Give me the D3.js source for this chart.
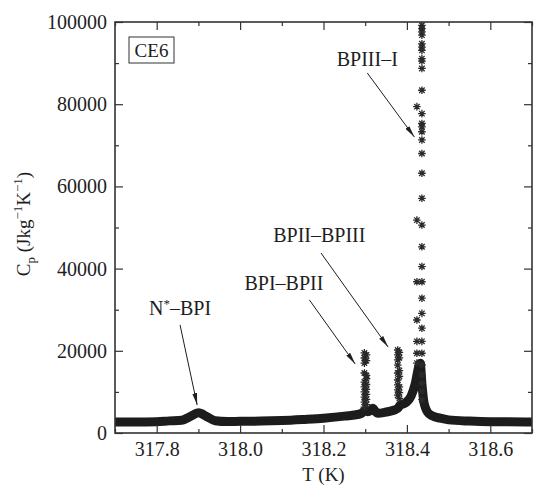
<!DOCTYPE html>
<html>
<head>
<meta charset="utf-8">
<script src="https://cdn.jsdelivr.net/npm/d3@7"></script>
<style>
  body { margin: 0; background: #fff; }
  svg text { fill: #1e1e1e; }
</style>
</head>
<body>
<div id="chart"></div>
<script>
// thick measured curve (T in K, Cp in J kg-1 K-1)
const curveT  = [317.70, 317.75, 317.80, 317.83, 317.86, 317.88, 317.90, 317.92, 317.94, 317.97,
                 318.00, 318.05, 318.10, 318.15, 318.20, 318.25, 318.29, 318.300, 318.306, 318.312,
                 318.318, 318.324, 318.33, 318.35, 318.37, 318.378, 318.384, 318.39, 318.40, 318.41,
                 318.42, 318.428, 318.432, 318.436, 318.440, 318.445, 318.45, 318.46, 318.48, 318.50,
                 318.55, 318.60, 318.70];
const curveCp = [2700, 2700, 2750, 2950, 3100, 4000, 4900, 4000, 3000, 2800,
                 2850, 2900, 3050, 3300, 3600, 4100, 4700, 5500, 5200, 5400,
                 6000, 5300, 4800, 5100, 5600, 6000, 6800, 7000, 7600, 9000,
                 12000, 16000, 17000, 12000, 8000, 6000, 5000, 4200, 3600, 3200,
                 2900, 2750, 2700];

// sparse points (stars) at the transitions
const spike1T  = [318.298, 318.298, 318.298, 318.298, 318.298, 318.298, 318.298, 318.298, 318.298, 318.298,
                  318.303, 318.303, 318.303, 318.303, 318.303, 318.303, 318.303, 318.303, 318.303];
const spike1Cp = [19500, 18250, 17000, 14600, 12400, 11200, 10000, 8750, 7500, 6300,
                  19000, 17600, 14000, 13200, 11800, 10600, 9400, 8200, 6900];
const spike2T  = [318.378, 318.378, 318.378, 318.378, 318.378, 318.378, 318.378, 318.378, 318.378,
                  318.382, 318.382, 318.382, 318.382, 318.382, 318.382, 318.382];
const spike2Cp = [20200, 19000, 17800, 16500, 14600, 12900, 11700, 10500, 9200,
                  19600, 18300, 15200, 13800, 11200, 9800, 8400];
const spike3T  = [318.424, 318.424, 318.424, 318.424, 318.424, 318.424, 318.424,
                  318.436, 318.436, 318.436, 318.436, 318.436, 318.436, 318.436, 318.436, 318.436, 318.436,
                  318.436, 318.436, 318.436, 318.436, 318.436, 318.436, 318.436, 318.436, 318.436, 318.436,
                  318.436, 318.436, 318.436, 318.436, 318.436, 318.436, 318.436, 318.436, 318.436, 318.436,
                  318.436, 318.436, 318.436];
const spike3Cp = [79400, 51800, 36800, 27500, 22300, 19400, 17000,
                  99200, 98400, 97600, 96800, 94700, 93900, 93100, 91100, 90500, 88700,
                  83400, 77700, 75300, 74500, 73300, 71300, 68000, 63200, 57100, 50600,
                  45300, 40500, 36800, 32800, 29100, 25500, 22300, 19400, 16600, 14200,
                  12100, 10100, 8100];

const xTicks = [317.8, 318.0, 318.2, 318.4, 318.6];
const xMinor = [317.7, 317.9, 318.1, 318.3, 318.5, 318.7];
const yTicks = [0, 20000, 40000, 60000, 80000, 100000];
const yMinor = [10000, 30000, 50000, 70000, 90000];

// annotation labels: text position and arrow start/end in data units
const noteText  = ["N*–BPI", "BPI–BPII", "BPII–BPIII", "BPIII–I"];
const noteTextT = [317.856, 318.105, 318.19, 318.305];
const noteTextCp= [28700, 34800, 46500, 89200];
const arrowT0   = [317.856, 318.166, 318.194, 318.305];
const arrowCp0  = [26300, 32400, 43800, 87600];
const arrowT1   = [317.897, 318.276, 318.355, 318.418];
const arrowCp1  = [6800, 16800, 20900, 72000];

const width = 534, height = 491;
const margin = {top: 22, right: 2, bottom: 58, left: 115};
const serif = "'Liberation Serif', 'Times New Roman', Times, 'Nimbus Roman', 'Noto Serif', 'DejaVu Serif', serif";

const svg = d3.select("#chart").append("svg")
    .attr("width", width)
    .attr("height", height)
    .style("font-family", serif);

const x = d3.scaleLinear().domain([317.7, 318.7]).range([margin.left, width - margin.right]);
const y = d3.scaleLinear().domain([0, 100000]).range([height - margin.bottom, margin.top]);

const defs = svg.append("defs");
defs.append("clipPath").attr("id", "clip")
  .append("rect")
    .attr("x", margin.left).attr("y", margin.top)
    .attr("width", x.range()[1] - margin.left)
    .attr("height", y.range()[0] - margin.top);
defs.append("marker")
    .attr("id", "head")
    .attr("viewBox", "0 0 12 6")
    .attr("refX", 12).attr("refY", 3)
    .attr("markerWidth", 12).attr("markerHeight", 6)
    .attr("markerUnits", "userSpaceOnUse")
    .attr("orient", "auto")
  .append("path")
    .attr("d", "M0,0.6L12,3L0,5.4Z")
    .attr("fill", "#1e1e1e");

const plot = svg.append("g").attr("clip-path", "url(#clip)");

// thick band of overlapping points
const line = d3.line()
    .x(d => x(d[0]))
    .y(d => y(d[1]))
    .curve(d3.curveMonotoneX);

plot.append("path")
    .datum(curveT.map((t, i) => [t, curveCp[i]]))
    .attr("d", line)
    .attr("fill", "none")
    .attr("stroke", "#1c1c1c")
    .attr("stroke-width", 9)
    .attr("stroke-linejoin", "round");

// star markers
function star(r) {
  const k = r * 0.72;
  return `M${-r},0L${r},0M0,${-r}L0,${r}M${-k},${-k}L${k},${k}M${-k},${k}L${k},${-k}`;
}
const stars = []
  .concat(spike1T.map((t, i) => [t, spike1Cp[i]]))
  .concat(spike2T.map((t, i) => [t, spike2Cp[i]]))
  .concat(spike3T.map((t, i) => [t, spike3Cp[i]]));

plot.selectAll(".star")
  .data(stars)
  .enter()
  .append("path")
    .attr("class", "star")
    .attr("transform", d => `translate(${x(d[0])},${y(d[1])})`)
    .attr("d", star(3.8))
    .attr("stroke", "#2a2a2a")
    .attr("stroke-width", 1.3)
    .attr("fill", "none");

// axes, ticks inward on all four sides
const x0 = x.range()[0], x1 = x.range()[1];
const y0 = y.range()[0], y1 = y.range()[1];

function clean(g) {
  g.attr("font-family", serif);
  g.select(".domain").remove();
}

svg.append("g")
    .attr("transform", `translate(0,${y0})`)
    .call(d3.axisBottom(x).tickValues(xTicks).tickSize(-8).tickPadding(9).tickFormat(d3.format(".1f")))
    .call(clean);
svg.append("g")
    .attr("transform", `translate(0,${y0})`)
    .call(d3.axisBottom(x).tickValues(xMinor).tickSize(-4).tickFormat(""))
    .call(clean);
svg.append("g")
    .attr("transform", `translate(0,${y1})`)
    .call(d3.axisTop(x).tickValues(xTicks).tickSize(-8).tickFormat(""))
    .call(clean);
svg.append("g")
    .attr("transform", `translate(0,${y1})`)
    .call(d3.axisTop(x).tickValues(xMinor).tickSize(-4).tickFormat(""))
    .call(clean);

svg.append("g")
    .attr("transform", `translate(${x0},0)`)
    .call(d3.axisLeft(y).tickValues(yTicks).tickSize(-8).tickPadding(8).tickFormat(d3.format("d")))
    .call(clean);
svg.append("g")
    .attr("transform", `translate(${x0},0)`)
    .call(d3.axisLeft(y).tickValues(yMinor).tickSize(-4).tickFormat(""))
    .call(clean);
svg.append("g")
    .attr("transform", `translate(${x1},0)`)
    .call(d3.axisRight(y).tickValues(yTicks).tickSize(-8).tickFormat(""))
    .call(clean);
svg.append("g")
    .attr("transform", `translate(${x1},0)`)
    .call(d3.axisRight(y).tickValues(yMinor).tickSize(-4).tickFormat(""))
    .call(clean);

svg.selectAll(".tick line").attr("stroke", "#333").attr("stroke-width", 1.2);
svg.selectAll(".tick text")
    .attr("font-size", 20)
    .attr("fill", "#1e1e1e");

// frame
svg.append("rect")
    .attr("x", x0).attr("y", y1)
    .attr("width", x1 - x0).attr("height", y0 - y1)
    .attr("fill", "none")
    .attr("stroke", "#333")
    .attr("stroke-width", 1.6);

// axis titles
svg.append("text")
    .attr("x", (x0 + x1) / 2)
    .attr("y", 481)
    .attr("text-anchor", "middle")
    .attr("font-size", 19)
    .text("T (K)");

const yl = svg.append("text")
    .attr("transform", "translate(30,224) rotate(-90)")
    .attr("text-anchor", "middle")
    .attr("font-size", 19);
yl.append("tspan").text("C");
yl.append("tspan").attr("dy", 5).attr("font-size", 13).text("p");
yl.append("tspan").attr("dy", -5).text(" (Jkg");
yl.append("tspan").attr("dy", -8).attr("font-size", 13).text("−1");
yl.append("tspan").attr("dy", 8).text("K");
yl.append("tspan").attr("dy", -8).attr("font-size", 13).text("−1");
yl.append("tspan").attr("dy", 8).text(")");

// sample label
svg.append("rect")
    .attr("x", 129).attr("y", 37)
    .attr("width", 45).attr("height", 26)
    .attr("fill", "none")
    .attr("stroke", "#333")
    .attr("stroke-width", 1);
svg.append("text")
    .attr("x", 151.5).attr("y", 57)
    .attr("text-anchor", "middle")
    .attr("font-size", 19)
    .text("CE6");

// annotations
noteText.forEach((s, i) => {
  const t = svg.append("text")
      .attr("x", x(noteTextT[i]))
      .attr("y", y(noteTextCp[i]))
      .attr("text-anchor", "middle")
      .attr("font-size", 20);
  if (s.startsWith("N*")) {
    t.append("tspan").text("N");
    t.append("tspan").attr("dy", -7).attr("font-size", 13).text("*");
    t.append("tspan").attr("dy", 7).text(s.slice(2));
  } else {
    t.text(s);
  }
  svg.append("line")
      .attr("x1", x(arrowT0[i])).attr("y1", y(arrowCp0[i]))
      .attr("x2", x(arrowT1[i])).attr("y2", y(arrowCp1[i]))
      .attr("stroke", "#1e1e1e")
      .attr("stroke-width", 1)
      .attr("marker-end", "url(#head)");
});
</script>
</body>
</html>
